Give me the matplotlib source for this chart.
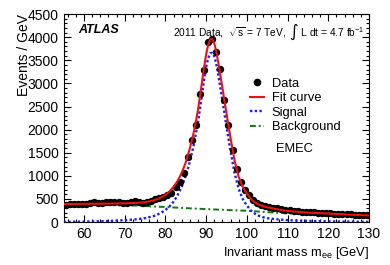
import matplotlib
matplotlib.use("Agg")
import matplotlib.pyplot as plt
from matplotlib.ticker import MultipleLocator
from matplotlib.lines import Line2D
from matplotlib.offsetbox import TextArea, HPacker, AnchoredOffsetbox

plt.rcParams['font.family'] = ['Liberation Sans', 'DejaVu Sans']
plt.rcParams['mathtext.fontset'] = 'custom'
plt.rcParams['mathtext.rm'] = 'Liberation Sans'
plt.rcParams['mathtext.it'] = 'Liberation Sans:italic'
plt.rcParams['mathtext.bf'] = 'Liberation Sans:bold'

# ---- data ----
mass_bins = [55.5 + i for i in range(75)]
events = [380, 390, 385, 395, 400, 395, 405, 440, 420, 415,
          425, 430, 440, 425, 420, 410, 425, 455, 430, 420,
          440, 465, 490, 520, 550, 595, 625, 750, 860, 1055,
          1410, 1775, 2100, 2770, 3300, 3900, 3960, 3680, 3320, 2640,
          2100, 1560, 1150, 870, 690, 585, 480, 410, 370, 345,
          325, 310, 295, 280, 265, 255, 245, 235, 228, 222,
          225, 220, 205, 198, 192, 188, 182, 175, 176, 170,
          165, 160, 156, 152, 150]

curve_x = [55, 60, 65, 70, 73, 75, 77, 78, 79, 80, 81, 82, 83, 84, 85, 86, 87,
           88, 88.5, 89, 89.5, 90, 90.5, 91, 91.5, 92, 92.5, 93, 93.5, 94, 94.5,
           95, 95.5, 96, 97, 98, 99, 100, 101, 102, 103, 104, 105, 107, 110,
           115, 120, 125, 130]
fit_curve = [390, 395, 398, 405, 415, 430, 465, 495, 535, 590, 660, 760, 890,
             1060, 1290, 1590, 1950, 2420, 2720, 3030, 3340, 3620, 3830, 3950,
             3960, 3870, 3690, 3450, 3180, 2910, 2630, 2360, 2090, 1820, 1330,
             980, 760, 620, 500, 425, 375, 345, 322, 285, 240, 205, 185, 162, 143]
signal = [5, 10, 20, 40, 60, 85, 125, 160, 205, 260, 335, 440, 580, 760, 1000,
          1300, 1680, 2150, 2450, 2760, 3070, 3350, 3540, 3650, 3660, 3590,
          3420, 3180, 2910, 2640, 2360, 2080, 1800, 1540, 1060, 720, 500, 360,
          250, 180, 135, 105, 85, 62, 42, 25, 15, 10, 5]
background = [385, 382, 372, 362, 355, 346, 338, 334, 330, 326, 321, 316, 311,
              306, 302, 297, 293, 289, 287, 285, 283, 281, 279, 277, 275, 273,
              271, 269, 268, 266, 264, 262, 260, 258, 255, 251, 248, 244, 238,
              232, 226, 220, 214, 204, 190, 170, 155, 142, 132]

fig = plt.figure(figsize=(3.9, 2.65), dpi=100)
ax = fig.add_axes([0.163, 0.162, 0.783, 0.785])

ax.plot(curve_x, background, linestyle=(0, (3, 1.5, 1, 1.5)), color='#117711', lw=1.4, zorder=2)
ax.plot(curve_x, signal, linestyle=(0, (1, 1)), color='#1a1aff', lw=1.7, zorder=3)
ax.errorbar(mass_bins, events, xerr=0.5, fmt='o', color='black', ms=4.3,
            elinewidth=1.0, capsize=0, zorder=4)
ax.plot(curve_x, fit_curve, color='#ee1111', lw=1.5, zorder=5)

ax.set_xlim(55, 130)
ax.set_ylim(0, 4500)
ax.xaxis.set_major_locator(MultipleLocator(10))
ax.xaxis.set_minor_locator(MultipleLocator(2))
ax.yaxis.set_major_locator(MultipleLocator(500))
ax.yaxis.set_minor_locator(MultipleLocator(100))
ax.tick_params(which='both', direction='in', top=True, right=True, labelsize=10, width=0.8)
ax.tick_params(which='major', length=5)
ax.tick_params(which='minor', length=2.5)
for s in ax.spines.values():
    s.set_linewidth(0.8)

ax.set_xlabel('Invariant mass m$_{\\mathrm{ee}}$ [GeV]', fontsize=9.3, loc='right', labelpad=3)
ax.set_ylabel('Events / GeV', fontsize=10, loc='top')
ax.yaxis.set_label_coords(-0.108, 1.0)

ax.text(0.047, 0.923, 'ATLAS', transform=ax.transAxes, fontsize=9,
        fontweight='bold', fontstyle='italic', va='center', ha='left')

hdr = HPacker(children=[
    TextArea('2011 Data,  $\\sqrt{\\mathrm{s}}$ = 7 TeV,  ', textprops=dict(fontsize=7.3)),
    TextArea('\u222B', textprops=dict(fontsize=12, family='DejaVu Sans')),
    TextArea(' L dt = 4.7 fb$^{-1}$', textprops=dict(fontsize=7.3)),
], align='baseline', pad=0, sep=0)
ab = AnchoredOffsetbox(loc='center right', child=hdr, frameon=False,
                       bbox_to_anchor=(0.985, 0.915), bbox_transform=ax.transAxes,
                       pad=0, borderpad=0)
ax.add_artist(ab)

handles = [Line2D([], [], marker='o', color='black', ls='none', ms=4.5),
           Line2D([], [], color='#ee1111', lw=1.5),
           Line2D([], [], color='#1a1aff', lw=1.7, ls=(0, (1, 1))),
           Line2D([], [], color='#117711', lw=1.4, ls=(0, (3, 1.5, 1, 1.5)))]
ax.legend(handles, ['Data', 'Fit curve', 'Signal', 'Background'],
          loc='upper left', bbox_to_anchor=(0.61, 0.695), frameon=False,
          fontsize=9.3, handlelength=1.1, handletextpad=0.6, labelspacing=0.2,
          borderaxespad=0, borderpad=0)
ax.text(0.697, 0.35, 'EMEC', transform=ax.transAxes, fontsize=9.3, va='center', ha='left')

fig.savefig('out.png', dpi=100)
